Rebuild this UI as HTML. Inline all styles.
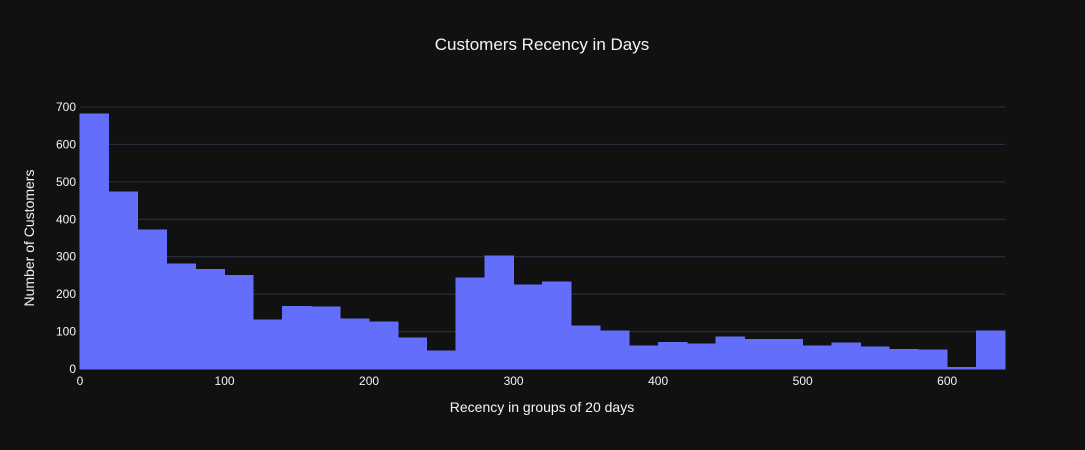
<!DOCTYPE html>
<html><head><meta charset="utf-8"><style>
html,body{margin:0;padding:0;background:#111111;overflow:hidden;}
svg{display:block;}
svg text{font-family:"Liberation Sans",sans-serif;fill:#f2f5fa;}
</style></head><body>
<svg width="1085" height="450" xmlns="http://www.w3.org/2000/svg">
<rect width="1085" height="450" fill="#111111"/>
<g id="grid"></g><g id="bars" shape-rendering="crispEdges"></g><g id="ticks"></g>
<text x="542" y="50" text-anchor="middle" font-size="17">Customers Recency in Days</text>
<text x="542" y="412" text-anchor="middle" font-size="14">Recency in groups of 20 days</text>
<text transform="translate(34,238) rotate(-90)" text-anchor="middle" font-size="14">Number of Customers</text>
</svg>
<script>
const binStarts = [0,20,40,60,80,100,120,140,160,180,200,220,240,260,280,300,320,340,360,380,400,420,440,460,480,500,520,540,560,580,600,620];
const counts = [682,473,372,281,267,251,131,168,166,134,126,83,48,243,302,225,233,115,102,62,72,67,86,80,80,62,70,59,53,51,5,102];
const xTicks = [0,100,200,300,400,500,600];
const yTicks = [0,100,200,300,400,500,600,700];
const binWidth = 20;
const NS="http://www.w3.org/2000/svg";
const x0=80,x1=1005,y0=369,yTop=107;
const xs=v=>x0+v/640*(x1-x0);
const ys=v=>y0-v/700*(y0-yTop);
const grid=document.getElementById('grid'),bars=document.getElementById('bars'),ticks=document.getElementById('ticks');
yTicks.forEach(t=>{
  if(t>0){const l=document.createElementNS(NS,'line');
  l.setAttribute('x1',x0);l.setAttribute('x2',x1);l.setAttribute('y1',ys(t));l.setAttribute('y2',ys(t));
  l.setAttribute('stroke','#283442');l.setAttribute('stroke-width','1');
  
  
  grid.appendChild(l);}
  const tx=document.createElementNS(NS,'text');
  tx.setAttribute('x',x0-4);tx.setAttribute('y',ys(t)+4);tx.setAttribute('text-anchor','end');tx.setAttribute('font-size','12');
  tx.textContent=t;
  
  
  ticks.appendChild(tx);
});
xTicks.forEach(t=>{
  const tx=document.createElementNS(NS,'text');
  tx.setAttribute('x',xs(t));tx.setAttribute('y',385);tx.setAttribute('text-anchor','middle');tx.setAttribute('font-size','12');
  tx.textContent=t;
  
  
  ticks.appendChild(tx);
});
binStarts.forEach((b,i)=>{
  const r=document.createElementNS(NS,'rect');
  r.setAttribute('x',xs(b));r.setAttribute('width',xs(b+binWidth)-xs(b));
  r.setAttribute('y',ys(counts[i]));r.setAttribute('height',y0-ys(counts[i]));
  r.setAttribute('fill','#636efa');
  r.setAttribute('stroke','#636efa');r.setAttribute('stroke-width','0.6');
  
  
  bars.appendChild(r);
});
</script>
</body></html>
